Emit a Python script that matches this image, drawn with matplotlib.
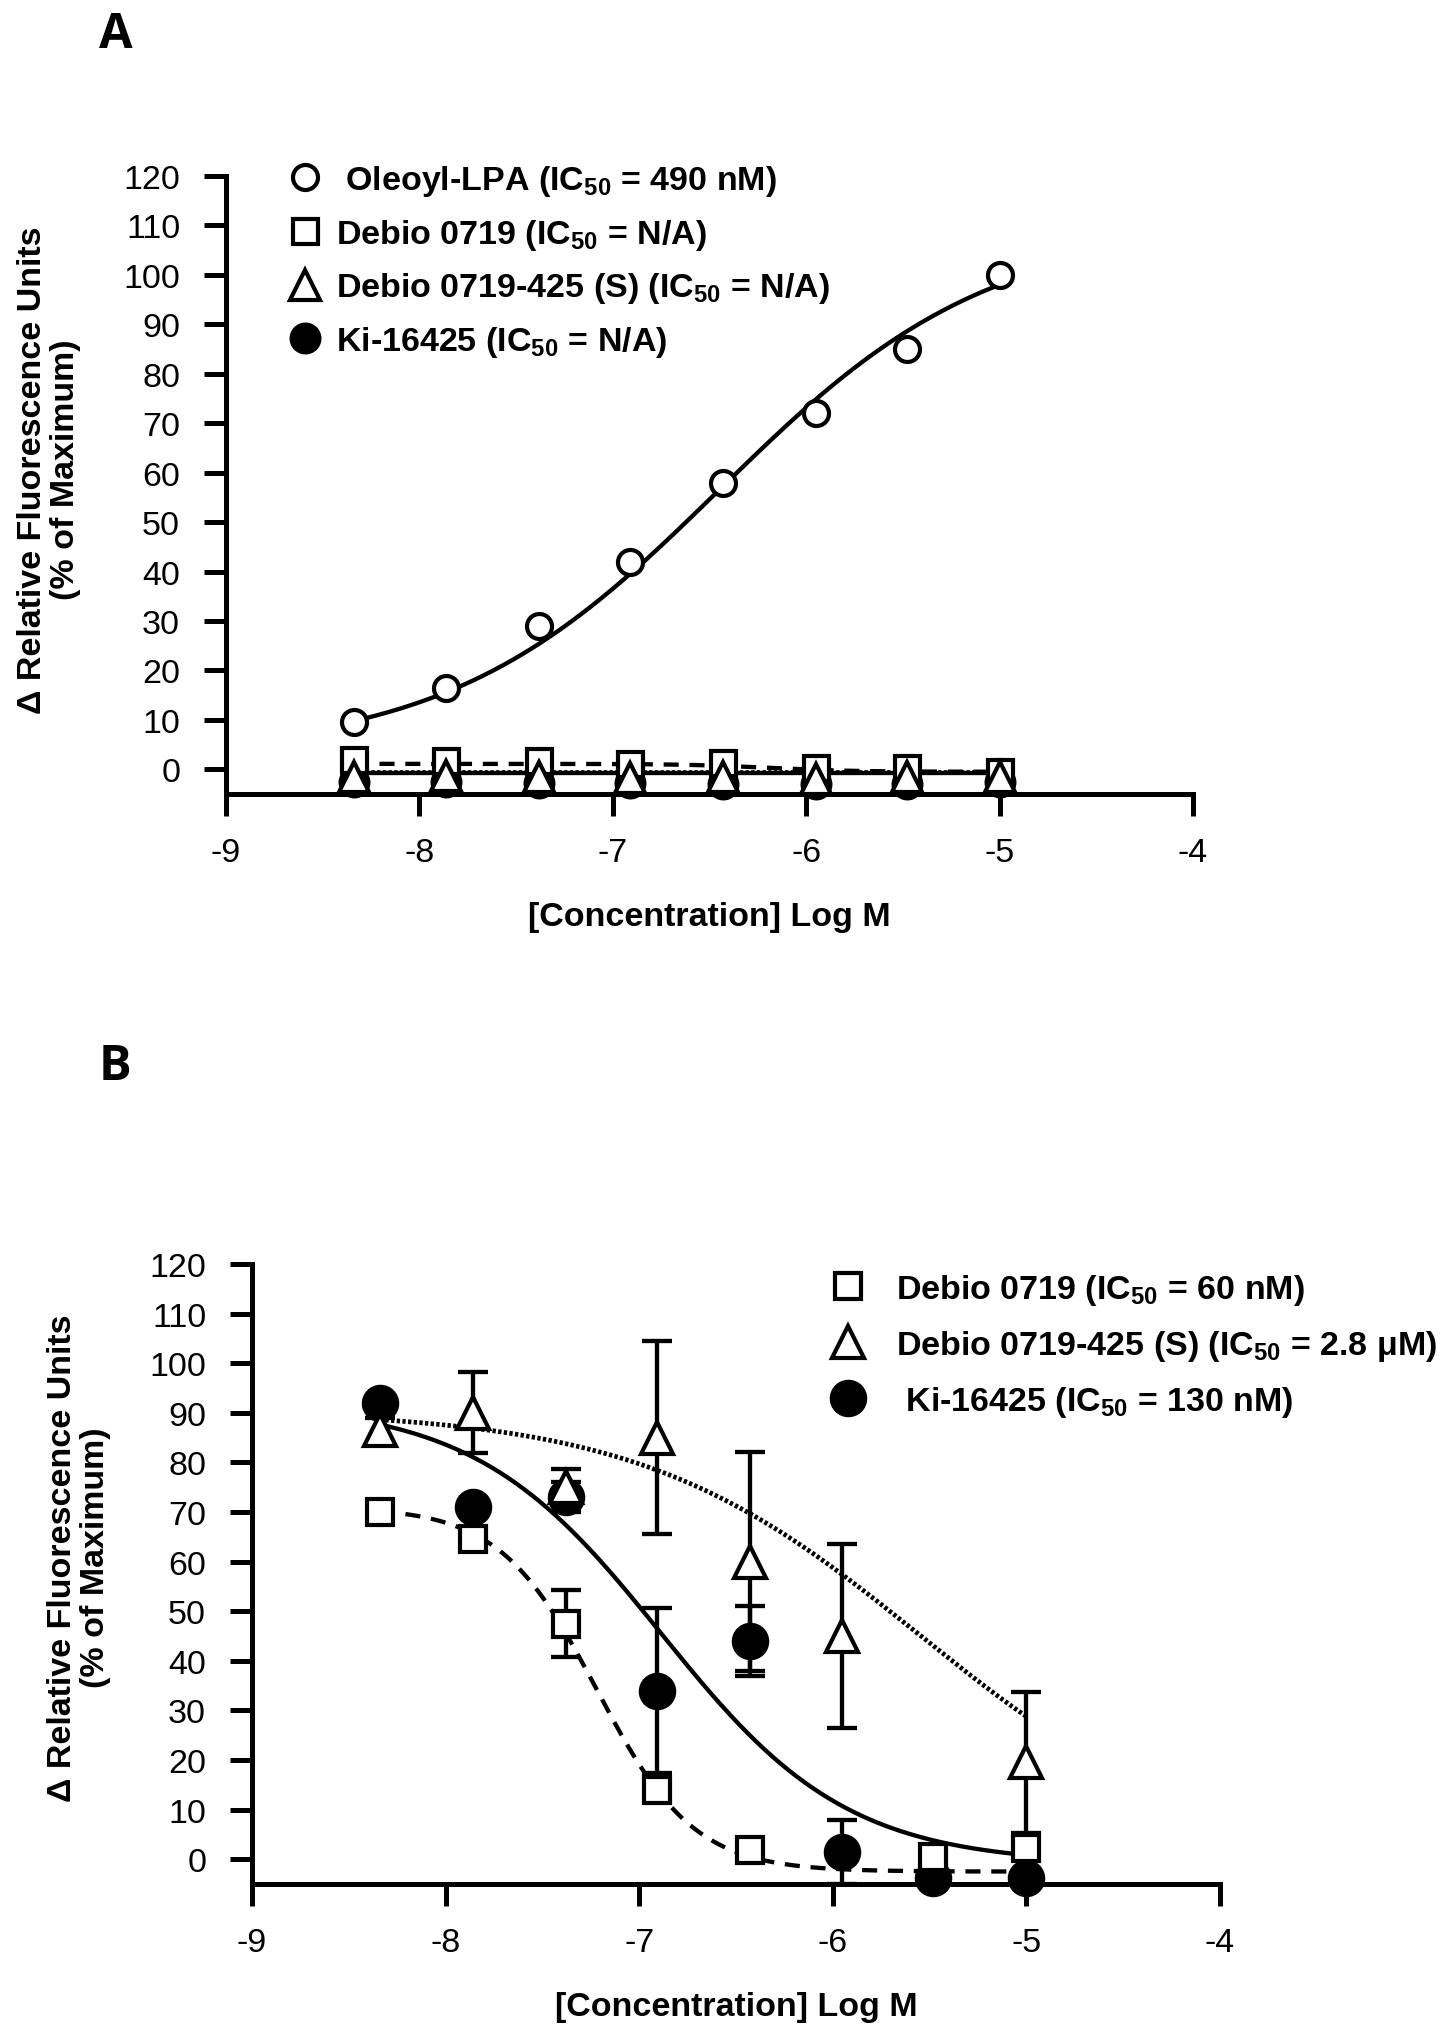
import numpy as np
import matplotlib
matplotlib.use("Agg")
import matplotlib.pyplot as plt
from matplotlib.lines import Line2D

plt.rcParams['font.family'] = ['Liberation Sans', 'DejaVu Sans']
plt.rcParams['mathtext.fontset'] = 'custom'
plt.rcParams['mathtext.rm'] = 'Liberation Sans'
plt.rcParams['mathtext.bf'] = 'Liberation Sans:bold'
plt.rcParams['axes.unicode_minus'] = False

# ---------------- data ----------------
log_conc = [-8.34, -7.86, -7.38, -6.91, -6.43, -5.95, -5.48, -5.0]

# Panel A
oleoyl_A = [9.5, 16.5, 29, 42, 58, 72, 85, 100]
debio_A = [1.8, 1.7, 1.6, 1.0, 1.2, 0.3, 0.2, -0.5]
debio425_A = [-1.5, -1.4, -1.5, -1.8, -1.6, -1.9, -1.5, -1.6]
ki_A = [-2.6, -2.5, -2.7, -2.8, -3.0, -2.9, -3.0, -2.5]

# fit parameters (bottom, top, logEC50, hill)
fit_oleoyl_A = (3.0, 110.0, -6.45, 0.62)
fit_debio_A = (-0.5, 1.1, -6.2, -2.0)
fit_debio425_A = (-0.6, -0.6, -6.0, 1.0)
fit_ki_A = (-0.85, -0.85, -6.0, 1.0)

# Panel B
debio_B = [70, 64.5, 47.5, 14, 1.8, np.nan, 0.4, 2.2]
debio_B_err = [np.nan, np.nan, 6.8, np.nan, np.nan, np.nan, np.nan, np.nan]
debio425_B = [86.5, 90, 75, 85, 60, 45, np.nan, 19.5]
debio425_B_err = [2.5, 8.2, 3.6, 19.5, 22, 18.5, np.nan, 14.3]
ki_B = [92, 71, 73, 34, 44, 1.5, -3.8, -3.8]
ki_B_err = [np.nan, np.nan, 3.0, 16.7, 7.0, 6.4, np.nan, np.nan]

fit_debio_B = (-2.5, 71.0, -7.22, -1.73)
fit_debio425_B = (0.0, 90.5, -5.553, -0.6)
fit_ki_B = (-1.0, 92.0, -6.886, -0.9)

labels_A = [r' Oleoyl-LPA (IC$_{\mathbf{50}}$ = 490 nM)',
            r'Debio 0719 (IC$_{\mathbf{50}}$ = N/A)',
            r'Debio 0719-425 (S) (IC$_{\mathbf{50}}$ = N/A)',
            r'Ki-16425 (IC$_{\mathbf{50}}$ = N/A)']
labels_B = [r'Debio 0719 (IC$_{\mathbf{50}}$ = 60 nM)',
            r'Debio 0719-425 (S) (IC$_{\mathbf{50}}$ = 2.8 μM)',
            r' Ki-16425 (IC$_{\mathbf{50}}$ = 130 nM)']

xticks = [-9, -8, -7, -6, -5, -4]
yticks = list(range(0, 121, 10))
xlabel = '[Concentration] Log M'
ylabel = 'Δ Relative Fluorescence Units\n(% of Maximum)'


def four_pl(x, p):
    b, t, c, h = p
    return b + (t - b) / (1 + 10 ** ((c - x) * h))


W, H = 1441, 2033
fig = plt.figure(figsize=(W / 100, H / 100), dpi=100)

LW = 3.1
DLW = 3.4
SP = 3.6
DASH = (0, (3.5, 2.5))
DOT = (0, (0.7, 0.5))


def style_axes(ax):
    ax.set_xlim(-9, -4)
    ax.set_ylim(-5, 120)
    ax.set_xticks(xticks)
    ax.set_yticks(yticks)
    ax.set_xticklabels([str(v) for v in xticks])
    ax.set_yticklabels([str(v) for v in yticks])
    for s in ['top', 'right']:
        ax.spines[s].set_visible(False)
    for s in ['left', 'bottom']:
        ax.spines[s].set_linewidth(SP)
    ax.spines['left'].set_bounds(-5, 120)
    ax.tick_params(axis='both', direction='out', length=16, width=SP,
                   labelsize=24.5)
    ax.tick_params(axis='y', pad=17)
    ax.tick_params(axis='x', pad=15)
    ax.set_xlabel(xlabel, fontsize=24.5, fontweight='bold', labelpad=24)


xs = np.linspace(min(log_conc), max(log_conc), 400)
xarr = np.array(log_conc)

# ---------------- Panel A ----------------
axA = fig.add_axes([226 / W, 1 - 795 / H, 967 / W, 618 / H])
style_axes(axA)
axA.plot(xs, four_pl(xs, fit_ki_A), color='black', lw=LW, zorder=2, clip_on=False)
axA.plot(xs, four_pl(xs, fit_debio425_A), color='black', lw=DLW, ls=DOT, zorder=2, clip_on=False)
axA.plot(xs, four_pl(xs, fit_debio_A), color='black', lw=LW, ls=DASH, zorder=2, clip_on=False)
axA.plot(xs, four_pl(xs, fit_oleoyl_A), color='black', lw=LW, zorder=2)

mA = dict(ls='none', mec='black', mew=3.0, clip_on=False)
axA.plot(log_conc, ki_A, marker='o', ms=20, mfc='black', zorder=3, **mA)
axA.plot(log_conc, debio_A, marker='s', ms=18, mfc='white', zorder=4, **mA)
axA.plot(log_conc, debio425_A, marker='^', ms=21, mfc='white', zorder=5, **mA)
axA.plot(log_conc, oleoyl_A, marker='o', ms=18, mfc='white', zorder=6, **mA)

hA = [Line2D([], [], marker='o', ms=18, mfc='white', mec='black', mew=3.0, ls='none'),
      Line2D([], [], marker='s', ms=18, mfc='white', mec='black', mew=3.0, ls='none'),
      Line2D([], [], marker='^', ms=21, mfc='white', mec='black', mew=3.0, ls='none'),
      Line2D([], [], marker='o', ms=20, mfc='black', mec='black', mew=3.0, ls='none')]
legA = fig.legend(hA, labels_A, loc='upper left',
                  bbox_to_anchor=(288 / W, 1 - 164 / H), frameon=False,
                  prop={'size': 24.5, 'weight': 'bold'}, handlelength=1.0,
                  handletextpad=0.4, labelspacing=0.55, borderpad=0,
                  borderaxespad=0)

fig.text(49 / W, 1 - 470 / H, ylabel, rotation=90, ha='center', va='center',
         fontsize=24.5, fontweight='bold', linespacing=1.05,
         multialignment='center')
fig.text(116 / W, 1 - 35 / H, 'A', ha='center', va='center', fontsize=35,
         fontweight='bold', family=['Open Sans', 'DejaVu Sans'])

# ---------------- Panel B ----------------
axB = fig.add_axes([252 / W, 1 - 1885 / H, 968 / W, 620 / H])
style_axes(axB)
axB.plot(xs, four_pl(xs, fit_ki_B), color='black', lw=LW, zorder=2)
axB.plot(xs, four_pl(xs, fit_debio425_B), color='black', lw=DLW, ls=DOT, zorder=2)
axB.plot(xs, four_pl(xs, fit_debio_B), color='black', lw=LW, ls=DASH, zorder=2)

ek = dict(ls='none', ecolor='black', elinewidth=LW, capsize=11, capthick=LW)


def errbars(ax, y, e, z):
    y = np.array(y, dtype=float)
    e = np.array(e, dtype=float)
    ok = ~np.isnan(e) & ~np.isnan(y)
    ax.errorbar(xarr[ok], y[ok], yerr=e[ok], zorder=z, **ek)


errbars(axB, ki_B, ki_B_err, 3)
errbars(axB, debio_B, debio_B_err, 3)
errbars(axB, debio425_B, debio425_B_err, 3)

mB = dict(ls='none', mec='black', mew=3.0, clip_on=False)
axB.plot(log_conc, ki_B, marker='o', ms=24, mfc='black', zorder=4, **mB)
axB.plot(log_conc, debio_B, marker='s', ms=19, mfc='white', zorder=5, **mB)
axB.plot(log_conc, debio425_B, marker='^', ms=23, mfc='white', zorder=6, **mB)

hB = [Line2D([], [], marker='s', ms=19, mfc='white', mec='black', mew=3.0, ls='none'),
      Line2D([], [], marker='^', ms=23, mfc='white', mec='black', mew=3.0, ls='none'),
      Line2D([], [], marker='o', ms=24, mfc='black', mec='black', mew=3.0, ls='none')]
legB = fig.legend(hB, labels_B, loc='upper left',
                  bbox_to_anchor=(831 / W, 1 - 1273 / H), frameon=False,
                  prop={'size': 24.5, 'weight': 'bold'}, handlelength=1.0,
                  handletextpad=0.9, labelspacing=0.62, borderpad=0,
                  borderaxespad=0)

fig.text(79 / W, 1 - 1558 / H, ylabel, rotation=90, ha='center', va='center',
         fontsize=24.5, fontweight='bold', linespacing=1.05,
         multialignment='center')
fig.text(115 / W, 1 - 1068 / H, 'B', ha='center', va='center', fontsize=35,
         fontweight='bold', family=['Open Sans', 'DejaVu Sans'])

fig.savefig('out.png', dpi=100, facecolor='white')
